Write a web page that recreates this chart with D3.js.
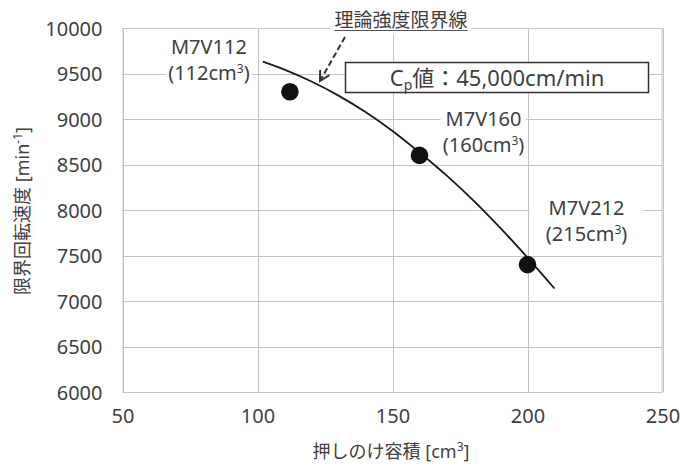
<!DOCTYPE html>
<html>
<head>
<meta charset="utf-8">
<script src="https://cdn.jsdelivr.net/npm/d3@7/dist/d3.min.js"></script>
<style>
  html, body { margin: 0; padding: 0; background: #fff; }
  svg { display: block; }
  text { font-family: "Noto Sans", "Noto Sans CJK JP", sans-serif; fill: #404040; }
  .jp { font-family: "Noto Sans CJK JP", "Noto Sans", sans-serif; }
</style>
</head>
<body>
<svg id="chart" width="682" height="466"></svg>
<script>
// ---- data ----
const xTicks = [50, 100, 150, 200, 250];
const yTicks = [6000, 6500, 7000, 7500, 8000, 8500, 9000, 9500, 10000];
const modelNames = ["M7V112", "M7V160", "M7V212"];
const modelVolumes = ["112", "160", "215"];
const pointX = [112, 160, 200];
const pointY = [9300, 8600, 7400];
const curveX = [102, 110, 120, 130, 140, 150, 160, 170, 180, 190, 200, 210];
const curveY = [9630, 9542, 9412, 9257, 9077, 8868, 8632, 8380, 8103, 7800, 7477, 7137];
const xTitle = "押しのけ容積 [cm";
const yTitle = "限界回転速度 [min";
const curveLabel = "理論強度限界線";
const cpLabelRest = "値：45,000cm/min";

// ---- layout ----
const W = 682, H = 466;
const m = { left: 122.5, right: 682 - 662.5, top: 28, bottom: 466 - 392 };
const svg = d3.select("#chart");

const x = d3.scaleLinear().domain([50, 250]).range([m.left, W - m.right]);
const y = d3.scaleLinear().domain([6000, 10000]).range([H - m.bottom, m.top]);

const grid = svg.append("g");
grid.selectAll("line.h").data(yTicks).join("line")
  .attr("x1", x(50)).attr("x2", x(250))
  .attr("y1", d => Math.round(y(d)) + 0.5).attr("y2", d => Math.round(y(d)) + 0.5)
  .attr("stroke", "#c3c3c3").attr("stroke-width", 1);
grid.selectAll("line.v").data(xTicks).join("line")
  .attr("y1", y(6000)).attr("y2", y(10000))
  .attr("x1", d => Math.round(x(d)) + 0.5).attr("x2", d => Math.round(x(d)) + 0.5)
  .attr("stroke", "#c3c3c3").attr("stroke-width", 1);

// axes (labels only)
const yAxis = d3.axisLeft(y).tickValues(yTicks).tickSize(0).tickPadding(20).tickFormat(d3.format("d"));
const gy = svg.append("g").attr("transform", `translate(${x(50)},0)`).call(yAxis);
gy.select(".domain").remove();
gy.selectAll("text").style("font-size", "20px").attr("fill", "#404040").attr("dy", "0.35em");

const xAxis = d3.axisBottom(x).tickValues(xTicks).tickSize(0).tickPadding(17).tickFormat(d3.format("d"));
const gx = svg.append("g").attr("transform", `translate(0,${y(6000)})`).call(xAxis);
gx.select(".domain").remove();
gx.selectAll("text").style("font-size", "20px").attr("fill", "#404040");

// axis titles
const xt = svg.append("text").attr("x", 391).attr("y", 458)
  .attr("text-anchor", "middle").style("font-size", "18px");
xt.append("tspan").attr("class", "jp").text(xTitle.split(" ")[0]);
xt.append("tspan").text(" " + xTitle.split(" ")[1]);
xt.append("tspan").attr("dy", -7).style("font-size", "12px").text("3");
xt.append("tspan").attr("dy", 7).text("]");

const yt = svg.append("text").attr("transform", "translate(29,211) rotate(-90)")
  .attr("text-anchor", "middle").style("font-size", "18px");
yt.append("tspan").attr("class", "jp").text(yTitle.split(" ")[0]);
yt.append("tspan").text("  " + yTitle.split(" ")[1]);
yt.append("tspan").attr("dy", -7).style("font-size", "12px").text("-1");
yt.append("tspan").attr("dy", 7).text("]");

// curve
const line = d3.line().x(d => x(d[0])).y(d => y(d[1])).curve(d3.curveNatural);
svg.append("path").datum(curveX.map((v, i) => [v, curveY[i]]))
  .attr("d", line).attr("fill", "none").attr("stroke", "#1a1a1a").attr("stroke-width", 1.8);

// data labels with white backgrounds
const labelOffsets = [[-81, -44], [64, -35], [59, -56]];
const labelPad = [[2, 3], [2, 3], [16, 3]];
modelNames.forEach((name, i) => {
  const cx = x(pointX[i]) + labelOffsets[i][0];
  const cy = y(pointY[i]) + labelOffsets[i][1];
  const g = svg.append("g");
  const bg = g.append("rect").attr("fill", "#fff");
  const t = g.append("text").style("font-size", "20px");
  const l1 = t.append("tspan").attr("y", cy + 6).text(name);
  const l2 = t.append("tspan").attr("y", cy + 32).text("(" + modelVolumes[i] + "cm");
  const sup = t.append("tspan").attr("dy", -7).style("font-size", "12px").text("3");
  const cl = t.append("tspan").attr("dy", 7).text(")");
  const w2 = l2.node().getComputedTextLength() + sup.node().getComputedTextLength() + cl.node().getComputedTextLength();
  l2.attr("x", cx - w2 / 2);
  l1.attr("x", cx - l1.node().getComputedTextLength() / 2);
  const bb = t.node().getBBox();
  bg.attr("x", bb.x - labelPad[i][0]).attr("y", bb.y - labelPad[i][1])
    .attr("width", bb.width + 2 * labelPad[i][0]).attr("height", bb.height + 2 * labelPad[i][1]);
});

// points
svg.selectAll("circle.pt").data(pointX).join("circle")
  .attr("cx", d => x(d)).attr("cy", (d, i) => y(pointY[i])).attr("r", 8.8)
  .attr("fill", "#111");

// plot border (on top)
svg.append("rect").attr("x", x(50) + 0.5).attr("y", Math.round(y(10000)) + 0.5)
  .attr("width", x(250) - x(50) - 1).attr("height", y(6000) - y(10000))
  .attr("fill", "none").attr("stroke", "#c9c6bc").attr("stroke-width", 1);

// Cp box
svg.append("rect").attr("x", 345.5).attr("y", 62.5).attr("width", 303).attr("height", 30)
  .attr("fill", "#fff").attr("stroke", "#333").attr("stroke-width", 1.5);
const cp = svg.append("text").attr("x", 497).attr("y", 85.5).attr("text-anchor", "middle")
  .style("font-size", "22px").attr("fill", "#333");
cp.append("tspan").text("C");
cp.append("tspan").attr("dy", 4).style("font-size", "14px").text("p");
cp.append("tspan").attr("dy", -4).attr("class", "jp").text(cpLabelRest.slice(0, 2));
cp.append("tspan").text(cpLabelRest.slice(2));

// curve label with underline + dashed arrow
const lbl = svg.append("g");
const lbg = lbl.append("rect").attr("fill", "#fff");
const lt = lbl.append("text").attr("class", "jp").attr("x", 401).attr("y", 27)
  .attr("text-anchor", "middle").style("font-size", "19px").attr("fill", "#333").text(curveLabel);
const lb = lt.node().getBBox();
lbg.attr("x", lb.x - 4).attr("y", 20).attr("width", lb.width + 8).attr("height", 14);
lbl.append("line").attr("x1", lb.x).attr("x2", lb.x + lb.width).attr("y1", 30.5).attr("y2", 30.5)
  .attr("stroke", "#555").attr("stroke-width", 1.2);
lbl.append("line").attr("x1", 345).attr("y1", 37).attr("x2", 320).attr("y2", 81)
  .attr("stroke", "#333").attr("stroke-width", 2).attr("stroke-dasharray", "6,3");
// arrow head
const ang = Math.atan2(81 - 37, 320 - 345);
const hl = 11, ha = 0.5;
lbl.append("path")
  .attr("d", `M${320 - hl * Math.cos(ang - ha)},${81 - hl * Math.sin(ang - ha)} L320,81 L${320 - hl * Math.cos(ang + ha)},${81 - hl * Math.sin(ang + ha)}`)
  .attr("fill", "none").attr("stroke", "#333").attr("stroke-width", 2);
</script>
</body>
</html>
